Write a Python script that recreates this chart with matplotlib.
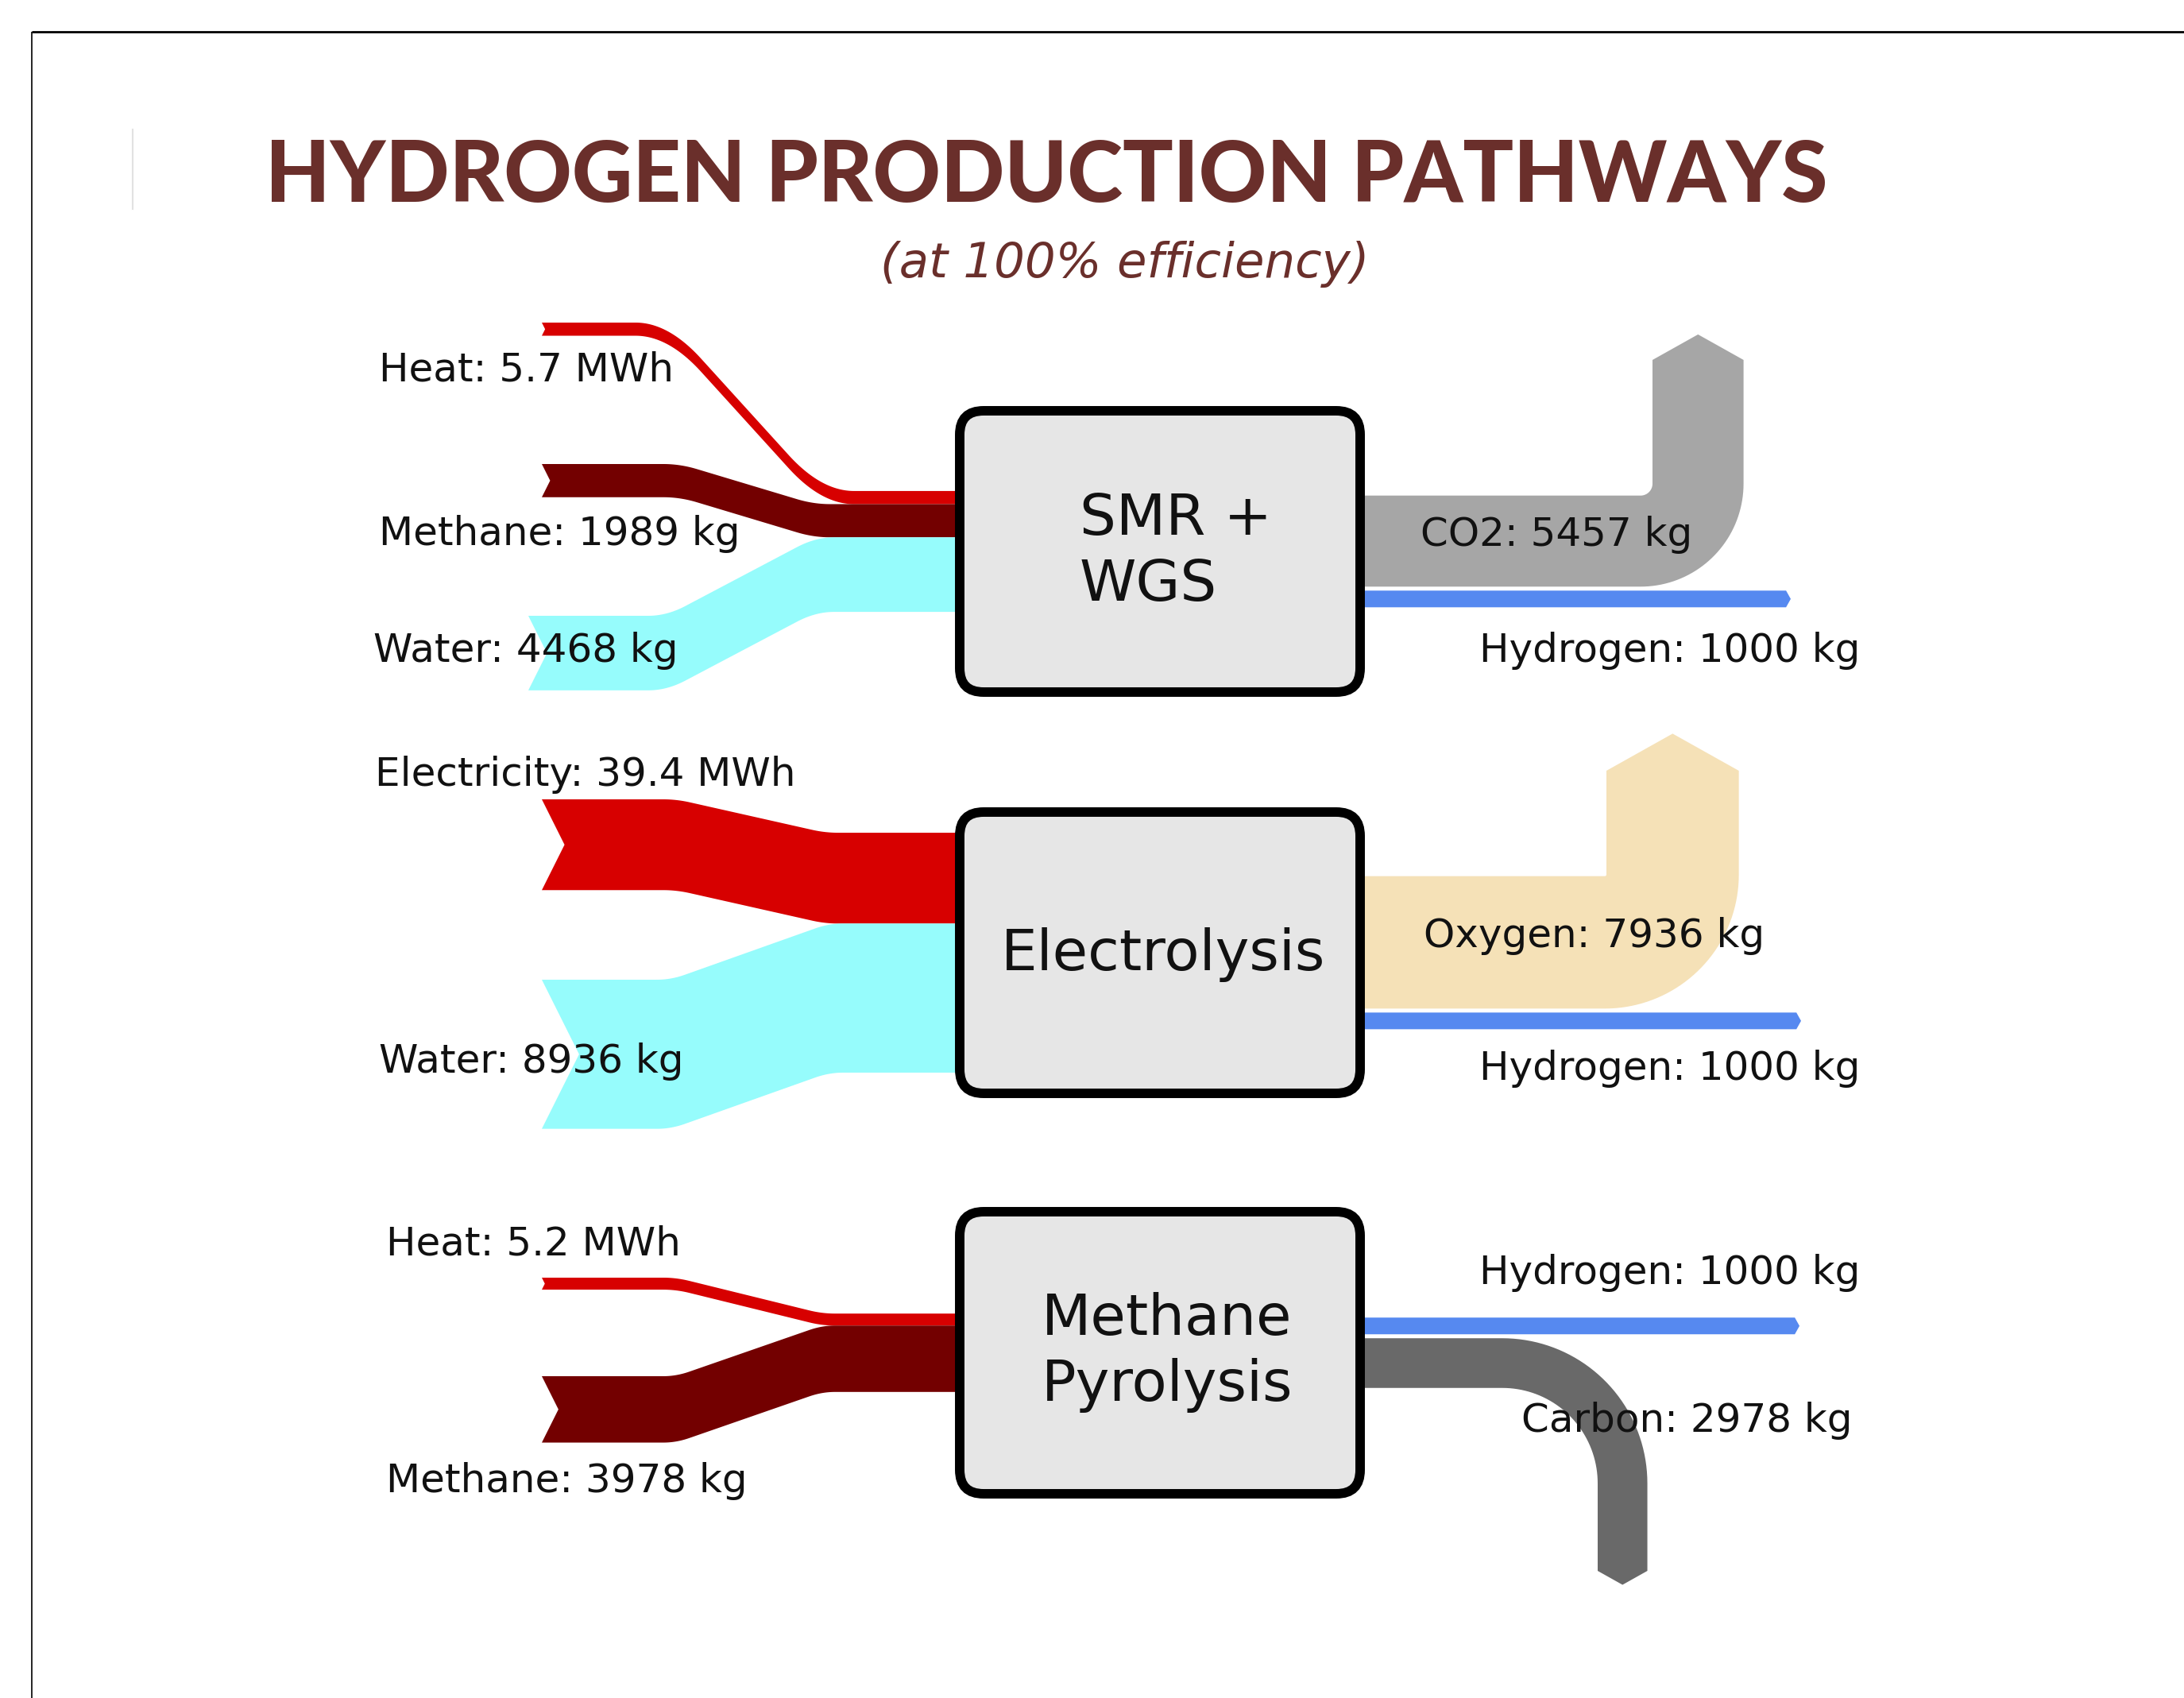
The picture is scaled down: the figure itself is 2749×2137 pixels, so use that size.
import matplotlib.pyplot as plt
import numpy as np
from matplotlib.patches import FancyBboxPatch, Polygon

# ---- data ----
processes = ['SMR +\nWGS', 'Electrolysis', 'Methane\nPyrolysis']

smr_in_names = ['Heat', 'Methane', 'Water']
smr_in_values = [5.7, 1989, 4468]
smr_in_units = ['MWh', 'kg', 'kg']
smr_out_names = ['CO2', 'Hydrogen']
smr_out_values = [5457, 1000]

elec_in_names = ['Electricity', 'Water']
elec_in_values = [39.4, 8936]
elec_in_units = ['MWh', 'kg']
elec_out_names = ['Oxygen', 'Hydrogen']
elec_out_values = [7936, 1000]

pyro_in_names = ['Heat', 'Methane']
pyro_in_values = [5.2, 3978]
pyro_in_units = ['MWh', 'kg']
pyro_out_names = ['Hydrogen', 'Carbon']
pyro_out_values = [1000, 2978]

# ---- styles / layout (pixel units of the canvas) ----
W, H = 2749, 2137
SCALE = {'kg': 0.021, 'MWh': 2.9}   # band width per unit
COLORS = {'Heat': '#d70000', 'Electricity': '#d70000', 'Methane': '#730000',
          'Water': '#96fcfc', 'CO2': '#a6a6a6', 'Hydrogen': '#5689f0',
          'Oxygen': '#f5e1b7', 'Carbon': '#696969'}
BOX_X = (1208, 1712)
BOX_Y = [(517, 871), (1022, 1376), (1525, 1880)]
TAIL_X = [[682, 682, 665], [682, 682], [682, 682]]
TAIL_Y = [[406, 584, 775], [1006, 1233], [1608, 1732]]
RAMPS = [[(800, 1075, 0.3), (835, 1045, 0.2), (816, 1050, 0.2)],
         [(835, 1055, 0.15), (827, 1061, 0.15)],
         [(835, 1051, 0.15), (835, 1051, 0.15)]]
OUT_SPEC = [[('up', 2080, 15, 453), ('straight', 2254)],
            [('up', 2022, 2, 970), ('straight', 2267)],
            [('straight', 2265), ('down', 2011, 120, 1977)]]
OUT_GAP = 5
IN_LABEL_POS = [[(477, 465), (477, 672), (470, 819)],
                [(472, 975), (477, 1336)],
                [(486, 1566), (486, 1864)]]
OUT_LABEL_POS = [[(1788, 673), (1862, 819)],
                 [(1792, 1178), (1862, 1345)],
                 [(1862, 1602), (1915, 1788)]]
BOX_TEXT = [(1359, 695, 'left'), (1464, 1201, 'center'), (1469, 1702, 'center')]
TITLE_COLOR = '#6a2f2b'
LABEL_FS = 36
BOX_FS = 52


def ease(t, r):
    t = np.clip(t, 0, 1)
    m = 1 / (1 - r)
    a = m / (2 * r)
    return np.where(t < r, a * t ** 2,
                    np.where(t > 1 - r, 1 - a * (1 - t) ** 2, m * r / 2 + m * (t - r)))


def input_band(ax, x0, y0, y1, x1, w, ramp, color):
    xs = np.linspace(x0, x1, 400)
    top = y0 + (y1 - y0) * ease((xs - ramp[0]) / (ramp[1] - ramp[0]), ramp[2])
    bot = top + w
    pts = np.vstack([np.column_stack([xs, top]),
                     np.column_stack([xs[::-1], bot[::-1]]),
                     [[x0 + 0.25 * w, y0 + w / 2]]])
    ax.add_patch(Polygon(pts, closed=True, facecolor=color, edgecolor='none', zorder=1))


def output_band(ax, x0, top, w, spec, color):
    bot = top + w
    tip = 0.28 * w
    if spec[0] == 'straight':
        xe = spec[1] - tip
        pts = [(x0, top), (xe, top), (xe + tip, top + w / 2), (xe, bot), (x0, bot)]
    elif spec[0] == 'up':
        _, xin, r, ye = spec
        cx, cy = xin - r, top - r
        th = np.linspace(np.pi / 2, 0, 40)
        inner = np.column_stack([cx + r * np.cos(th), cy + r * np.sin(th)])
        outer = np.column_stack([cx + (r + w) * np.cos(th[::-1]), cy + (r + w) * np.sin(th[::-1])])
        pts = np.vstack([[(x0, top)], inner,
                         [(xin, ye), (xin + w / 2, ye - tip), (xin + w, ye)],
                         outer, [(x0, bot)]])
    else:
        _, xin, r, ye = spec
        cx, cy = xin - r, bot + r
        th = np.linspace(-np.pi / 2, 0, 40)
        outer = np.column_stack([cx + (r + w) * np.cos(th), cy + (r + w) * np.sin(th)])
        inner = np.column_stack([cx + r * np.cos(th[::-1]), cy + r * np.sin(th[::-1])])
        pts = np.vstack([[(x0, top)], outer,
                         [(xin + w, ye), (xin + w / 2, ye + tip), (xin, ye)],
                         inner, [(x0, bot)]])
    ax.add_patch(Polygon(np.asarray(pts), closed=True, facecolor=color, edgecolor='none', zorder=1))


def fit_width(fig, t, width_px):
    fig.canvas.draw()
    bb = t.get_window_extent(renderer=fig.canvas.get_renderer())
    t.set_fontsize(t.get_fontsize() * width_px / bb.width)


fig = plt.figure(figsize=(W / 100, H / 100), dpi=100)
ax = fig.add_axes([0, 0, 1, 1])
ax.set_xlim(0, W)
ax.set_ylim(H, 0)
ax.axis('off')

# page frame
ax.plot([40, W], [40, 40], color='black', lw=2, solid_capstyle='butt')
ax.plot([40, 40], [40, H], color='black', lw=1.2, solid_capstyle='butt')
ax.plot([167, 167], [163, 263], color='#e2e2e2', lw=1.5)

title = ax.text(1317, 223, 'HYDROGEN PRODUCTION PATHWAYS', ha='center', va='center',
                fontsize=70, family='Lato', weight='black', color=TITLE_COLOR)
sub = ax.text(1416, 333, '(at 100% efficiency)', ha='center', va='center',
              fontsize=40, style='italic', family='DejaVu Sans', color=TITLE_COLOR)

inputs = [(smr_in_names, smr_in_values, smr_in_units),
          (elec_in_names, elec_in_values, elec_in_units),
          (pyro_in_names, pyro_in_values, pyro_in_units)]
outputs = [(smr_out_names, smr_out_values),
           (elec_out_names, elec_out_values),
           (pyro_out_names, pyro_out_values)]

xmid = (BOX_X[0] + BOX_X[1]) / 2
for k, proc in enumerate(processes):
    yc = (BOX_Y[k][0] + BOX_Y[k][1]) / 2

    names, vals, units = inputs[k]
    widths = [v * SCALE[u] for v, u in zip(vals, units)]
    y = yc - sum(widths) / 2
    for i, (n, v, u) in enumerate(zip(names, vals, units)):
        input_band(ax, TAIL_X[k][i], TAIL_Y[k][i], y, xmid, widths[i], RAMPS[k][i], COLORS[n])
        y += widths[i]
        lx, ly = IN_LABEL_POS[k][i]
        ax.text(lx, ly, f'{n}: {v:g} {u}', ha='left', va='center', fontsize=LABEL_FS,
                color='#111111', zorder=5)

    names, vals = outputs[k]
    widths = [v * SCALE['kg'] for v in vals]
    y = yc - (sum(widths) + OUT_GAP * (len(widths) - 1)) / 2
    for i, (n, v) in enumerate(zip(names, vals)):
        output_band(ax, xmid, y, widths[i], OUT_SPEC[k][i], COLORS[n])
        y += widths[i] + OUT_GAP
        lx, ly = OUT_LABEL_POS[k][i]
        ax.text(lx, ly, f'{n}: {v:g} kg', ha='left', va='center', fontsize=LABEL_FS,
                color='#111111', zorder=5)

    box = FancyBboxPatch((BOX_X[0], BOX_Y[k][0]), BOX_X[1] - BOX_X[0], BOX_Y[k][1] - BOX_Y[k][0],
                         boxstyle='round,pad=0,rounding_size=30', facecolor='#e6e6e6',
                         edgecolor='black', lw=8.6, zorder=3)
    ax.add_patch(box)
    tx, ty, ha = BOX_TEXT[k]
    ax.text(tx, ty, proc, ha=ha, va='center', multialignment=ha, fontsize=BOX_FS,
            linespacing=1.27, color='#111111', zorder=5)

fit_width(fig, title, 1967)
fit_width(fig, sub, 615)

fig.savefig('out.png', dpi=100)
